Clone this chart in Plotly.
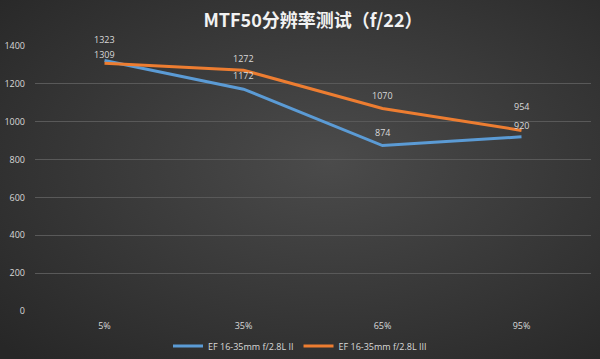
import plotly.graph_objects as go
import base64

categories = ["5%", "35%", "65%", "95%"]
series_a_name = "EF 16-35mm f/2.8L II"
series_a = [1323, 1172, 874, 920]
series_b_name = "EF 16-35mm f/2.8L III"
series_b = [1309, 1272, 1070, 954]
y_ticks = [0, 200, 400, 600, 800, 1000, 1200, 1400]

# vertical label offsets (px) per point, to keep close labels readable
shift_a = [21, 14, 13, 11]
shift_b = [9, 12, 13, 24]

W, H = 600, 359
ML, MR, MT, MB = 35, 9, 46, 48
PW, PH = W - ML - MR, H - MT - MB

svg = """<svg xmlns='http://www.w3.org/2000/svg' width='600' height='359'>
<defs><radialGradient id='g' cx='55%' cy='45%' r='75%'>
<stop offset='0%' stop-color='#4b4b4b'/><stop offset='100%' stop-color='#272727'/>
</radialGradient></defs><rect width='600' height='359' fill='url(#g)'/></svg>"""
bg_uri = "data:image/svg+xml;base64," + base64.b64encode(svg.encode()).decode()

fig = go.Figure()
annotations = []
for name, vals, color, shifts in [(series_a_name, series_a, "#5B9BD5", shift_a),
                                  (series_b_name, series_b, "#ED7D31", shift_b)]:
    fig.add_trace(go.Scatter(
        x=categories, y=vals, name=name, mode="lines",
        line=dict(color=color, width=3),
    ))
    for c, v, s in zip(categories, vals, shifts):
        annotations.append(dict(x=c, y=v, text=str(v), showarrow=False,
                                yshift=s, xref="x", yref="y",
                                font=dict(color="#d9d9d9", size=9, family="Open Sans")))

fig.update_layout(
    width=W, height=H,
    margin=dict(l=ML, r=MR, t=MT, b=MB, autoexpand=False),
    paper_bgcolor="#383838", plot_bgcolor="rgba(0,0,0,0)",
    images=[dict(source=bg_uri, xref="paper", yref="paper",
                 x=-ML / PW, y=1 + MT / PH, sizex=W / PW, sizey=H / PH,
                 xanchor="left", yanchor="top", layer="below", sizing="stretch")],
    title=dict(text="<b>MTF50分辨率测试（f/22）</b>", x=0.5, y=0.942,
               xref="paper", yref="container",
               xanchor="center", yanchor="middle",
               font=dict(color="#f2f2f2", size=18, family="Noto Sans CJK SC")),
    font=dict(family="Open Sans", color="#d9d9d9", size=9),
    showlegend=True,
    legend=dict(orientation="h", x=0.5, y=0.036, xref="container", yref="container",
                xanchor="center", yanchor="middle",
                font=dict(size=9, color="#d9d9d9"), bgcolor="rgba(0,0,0,0)"),
    annotations=annotations,
    xaxis=dict(showgrid=False, showline=False, zeroline=False, automargin=False,
               tickfont=dict(size=9, color="#d9d9d9"), ticks="", range=[-0.5, 3.5],
               ticklabelstandoff=8),
    yaxis=dict(range=[0, 1400], tickvals=y_ticks, showgrid=True, automargin=False,
               gridcolor="#595959", gridwidth=1, zeroline=False,
               tickfont=dict(size=9, color="#d9d9d9"), ticks="", ticklabelstandoff=9),
)
fig.write_html("out.html", config={"displayModeBar": False},
               post_script="document.body.style.margin='0';document.body.style.overflow='hidden';")
